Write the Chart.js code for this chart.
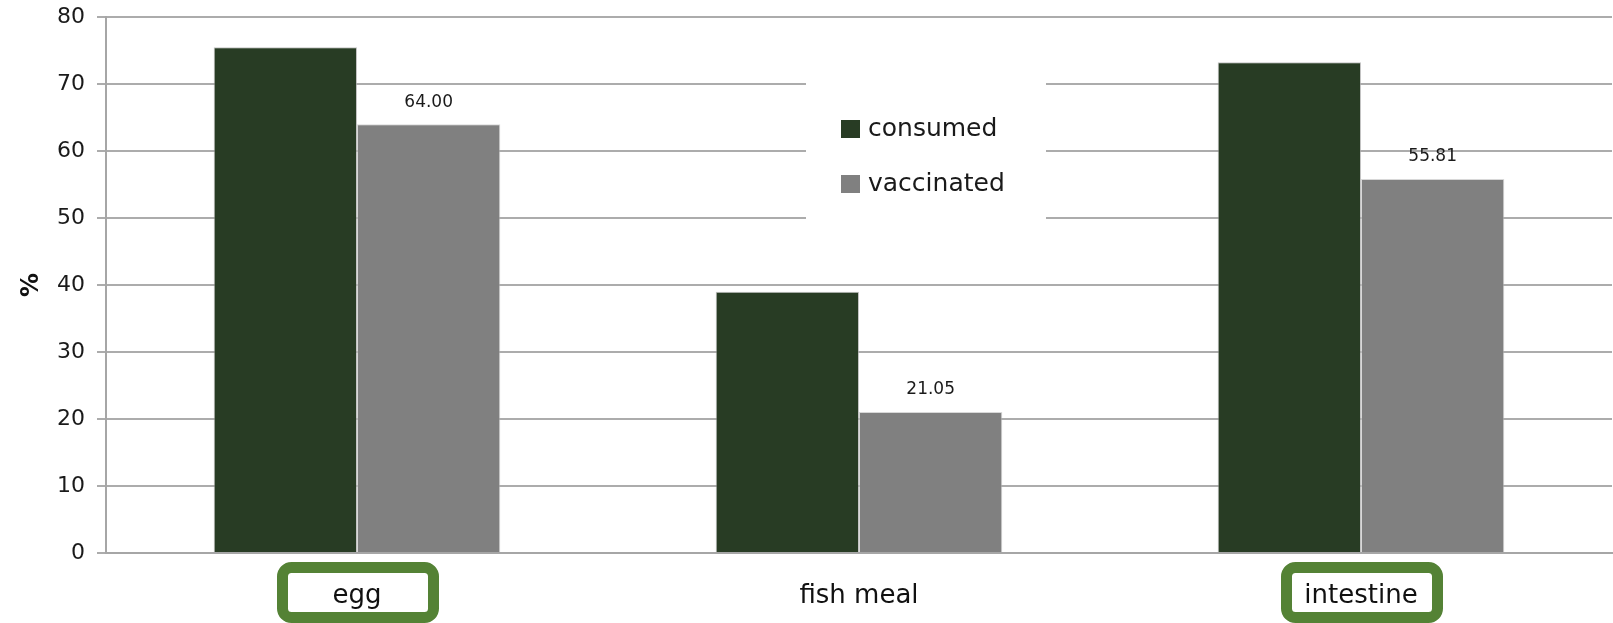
<!DOCTYPE html>
<html>
<head>
<meta charset="utf-8">
<script src="https://cdn.jsdelivr.net/npm/chart.js@4"></script>
<style>
  html, body { margin: 0; padding: 0; background: #fff; }
  #wrap { width: 1613px; height: 623px; position: relative; }
</style>
</head>
<body>
<div id="wrap"><canvas id="chart"></canvas></div>
<script>
// chart data
const categories = ['egg', 'fish meal', 'intestine'];
const consumed = [75.47, 38.98, 73.23];
const vaccinated = [64.00, 21.05, 55.81];
const seriesNames = ['consumed', 'vaccinated'];
const yTicks = [0, 10, 20, 30, 40, 50, 60, 70, 80];
const highlighted = ['egg', 'intestine'];

const FONT = '"DejaVu Sans", sans-serif';
const colors = ['#283c24', '#808080'];

// legend drawn inside the plot, on a white patch over the grid
const legendPlugin = {
    id: 'innerLegend',
    beforeDatasetsDraw(chart) {
        const ctx = chart.ctx;
        ctx.save();
        ctx.fillStyle = '#fff';
        ctx.fillRect(806, 68, 240, 168);
        ctx.restore();
    },
    afterDraw(chart) {
        const ctx = chart.ctx;
        ctx.save();
        ctx.font = '25px ' + FONT;
        ctx.textBaseline = 'middle';
        chart.data.datasets.forEach((ds, i) => {
            const cy = 129 + i * 55;
            ctx.fillStyle = ds.backgroundColor;
            ctx.fillRect(841, cy - 9, 19, 18);
            ctx.fillStyle = '#1a1a1a';
            ctx.fillText(ds.label, 868, cy);
        });
        ctx.restore();
    }
};

// value labels above the vaccinated bars
const valueLabels = {
    id: 'valueLabels',
    afterDatasetsDraw(chart) {
        const ctx = chart.ctx;
        const meta = chart.getDatasetMeta(1);
        ctx.save();
        ctx.font = '17px ' + FONT;
        ctx.fillStyle = '#1a1a1a';
        ctx.textAlign = 'center';
        ctx.textBaseline = 'middle';
        meta.data.forEach((bar, i) => {
            ctx.fillText(vaccinated[i].toFixed(2), bar.x, bar.y - 22);
        });
        ctx.restore();
    }
};

// green rounded boxes round some category labels
const labelBoxes = {
    id: 'labelBoxes',
    afterDraw(chart) {
        const ctx = chart.ctx;
        const x = chart.scales.x;
        ctx.save();
        ctx.strokeStyle = '#548235';
        ctx.lineWidth = 11;
        highlighted.forEach(name => {
            const cx = x.getPixelForValue(categories.indexOf(name)) + 1;
            ctx.beginPath();
            ctx.roundRect(cx - 75.5, 567.5, 151, 50, 9);
            ctx.stroke();
        });
        ctx.restore();
    }
};

new Chart(document.getElementById('chart'), {
    type: 'bar',
    data: {
        labels: categories,
        datasets: [
            {
                label: seriesNames[0],
                data: consumed,
                backgroundColor: colors[0],
                borderColor: 'rgba(170,170,170,0.7)',
                borderWidth: 1
            },
            {
                label: seriesNames[1],
                data: vaccinated,
                backgroundColor: colors[1],
                borderColor: 'rgba(200,200,200,0.7)',
                borderWidth: 1
            }
        ]
    },
    options: {
        responsive: true,
        maintainAspectRatio: false,
        animation: false,
        layout: { padding: { top: 17, right: 1, left: 0, bottom: 0 } },
        datasets: {
            bar: { categoryPercentage: 0.571, barPercentage: 1.0 }
        },
        plugins: {
            legend: { display: false },
            tooltip: { enabled: false }
        },
        scales: {
            x: {
                grid: { display: false, drawTicks: false },
                border: { display: true, color: '#a6a6a6', width: 2 },
                ticks: {
                    color: '#111',
                    font: { family: FONT, size: 26 },
                    padding: 28
                },
                afterFit(scale) {
                    scale.height = 70;
                    scale.paddingLeft = 0;
                    scale.paddingRight = 0;
                }
            },
            y: {
                min: 0,
                max: 80,
                afterBuildTicks(scale) {
                    scale.ticks = yTicks.map(v => ({ value: v }));
                },
                grid: { color: '#acacac', lineWidth: 2, tickLength: 9 },
                border: { display: true, color: '#a6a6a6', width: 2 },
                ticks: {
                    color: '#1a1a1a',
                    font: { family: FONT, size: 22 },
                    padding: 12
                },
                title: {
                    display: true,
                    text: '%',
                    color: '#111',
                    font: { family: FONT, size: 24, weight: 'bold' },
                    padding: { top: 17, bottom: 0 }
                },
                afterFit(scale) {
                    scale.width = 106;
                    scale.paddingTop = 0;
                    scale.paddingBottom = 0;
                }
            }
        }
    },
    plugins: [legendPlugin, valueLabels, labelBoxes]
});
</script>
</body>
</html>
